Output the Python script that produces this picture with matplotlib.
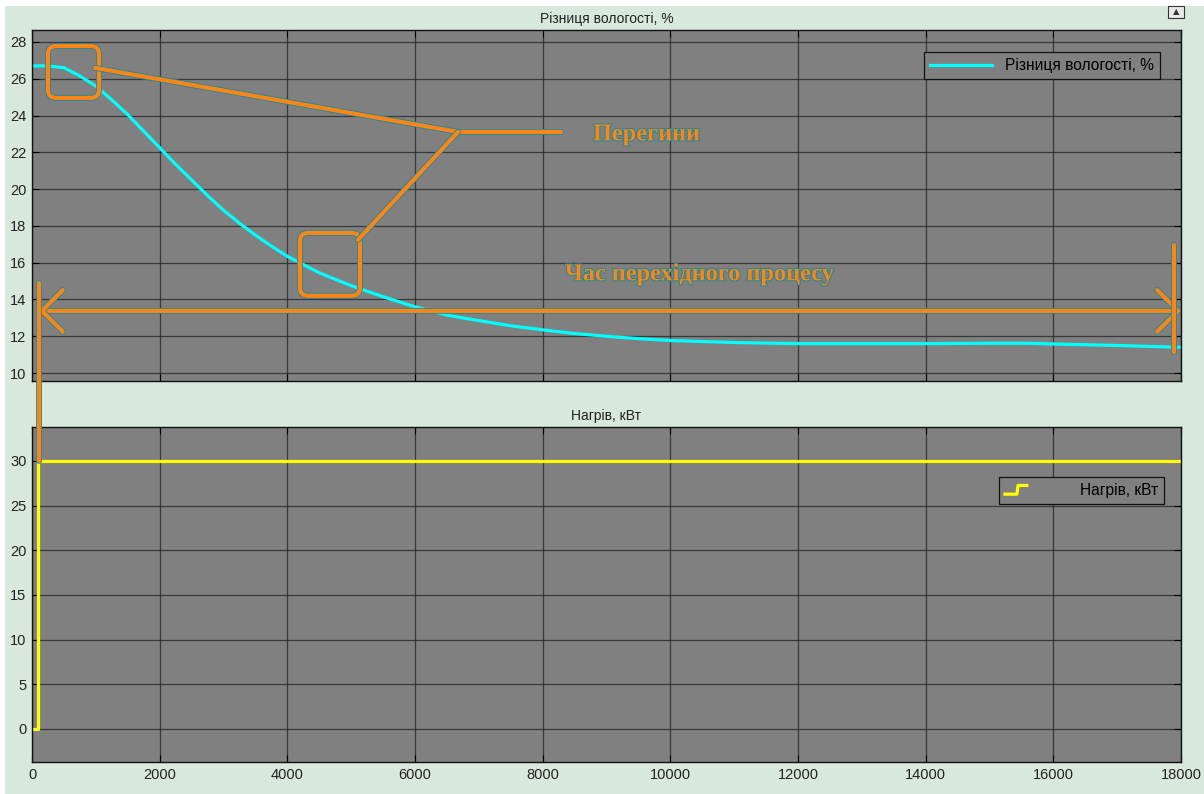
import numpy as np
import matplotlib.pyplot as plt
import matplotlib.patheffects as pe
from matplotlib.patches import Rectangle, FancyBboxPatch, ConnectionPatch
from matplotlib.legend_handler import HandlerLine2D
from matplotlib.lines import Line2D

# Дані: різниця вологості та нагрів
time_hum = [0, 250, 500, 750, 1000, 1250, 1500, 1750, 2000, 2250, 2500, 2750, 3000,
            3250, 3500, 3750, 4000, 4250, 4500, 4750, 5000, 5500, 6000, 6500, 7000,
            7500, 8000, 8500, 9000, 9500, 10000, 11000, 12000, 13000, 14000, 15000,
            15600, 16000, 17000, 18000]
hum_diff = [26.7, 26.7, 26.6, 26.15, 25.6, 24.85, 24.05, 23.15, 22.25, 21.35, 20.5,
            19.65, 18.85, 18.15, 17.5, 16.9, 16.35, 15.9, 15.45, 15.1, 14.75, 14.15,
            13.6, 13.15, 12.85, 12.57, 12.35, 12.15, 12.0, 11.87, 11.77, 11.66,
            11.6, 11.6, 11.6, 11.62, 11.62, 11.58, 11.5, 11.4]

time_heat = [0, 100, 18000]
heat_kw = [0, 30, 30]

title_top = 'Різниця вологості, %'
title_bottom = 'Нагрів, кВт'
xticks = np.arange(0, 18001, 2000)

plt.rcParams['font.family'] = ['Liberation Sans', 'DejaVu Sans']

ORANGE = '#fb8517'
TEAL = '#1f8a99'
GREEN_BG = '#d8e8dc'
AX_BG = '#808080'

fig = plt.figure(figsize=(12.04, 7.94), dpi=100)
fig.patch.set_facecolor('white')
fig.add_artist(Rectangle((5 / 1204, 0), 1, 1 - 6 / 794, transform=fig.transFigure,
                         facecolor=GREEN_BG, edgecolor='none', zorder=-10))

ax1 = fig.add_axes([0.02658, 0.5202, 0.9543, 0.4420])
ax2 = fig.add_axes([0.02658, 0.0403, 0.9543, 0.4219])

for ax in (ax1, ax2):
    ax.set_facecolor(AX_BG)
    ax.set_xlim(0, 18000)
    ax.set_xticks(xticks)
    ax.grid(True, color='#222222', linewidth=0.9, alpha=0.75)
    ax.tick_params(direction='in', top=True, right=True, length=5, width=0.8,
                   labelsize=10.5, labelcolor='#222222', pad=4)
    for s in ax.spines.values():
        s.set_color('#111111')
        s.set_linewidth(1)
    ax.set_axisbelow(True)

ax1.set_ylim(9.57, 28.65)
ax1.set_yticks(np.arange(10, 29, 2))
ax1.tick_params(labelbottom=False)
ax2.set_ylim(-3.7, 33.8)
ax2.set_yticks(np.arange(0, 31, 5))

ax1.plot(time_hum, hum_diff, color='#00ffff', linewidth=2.3, label=title_top,
         solid_joinstyle='round')
ax2.plot(time_heat, heat_kw, color='#ffff00', linewidth=2.3, drawstyle='steps-post',
         label=title_bottom)

ax1.set_title(title_top, fontsize=10, color='#222222', pad=5)
ax2.set_title(title_bottom, fontsize=10, color='#222222', pad=5)


class HandlerStep(HandlerLine2D):
    def create_artists(self, legend, orig_handle, xdescent, ydescent, width,
                       height, fontsize, trans):
        w = 2.0 * height
        x0 = -xdescent
        y0 = -ydescent
        xs = [x0, x0 + 0.55 * w, x0 + 0.6 * w, x0 + w]
        ys = [y0 + 0.1 * height, y0 + 0.1 * height, y0 + 0.9 * height, y0 + 0.9 * height]
        ln = Line2D(xs, ys, color=orig_handle.get_color(), linewidth=2.3,
                    transform=trans)
        return [ln]


leg1 = ax1.legend(loc='upper right', bbox_to_anchor=(0.9817, 0.9373), borderaxespad=0,
                  fontsize=11.2, handlelength=4, fancybox=False, framealpha=1,
                  facecolor=AX_BG, edgecolor='#111111', borderpad=0.4)
leg1.get_frame().set_linewidth(0.9)
leg2 = ax2.legend(loc='upper right', bbox_to_anchor=(0.9852, 0.8507), borderaxespad=0,
                  fontsize=11.2, handlelength=4.2, handletextpad=0.6, fancybox=False,
                  framealpha=1, facecolor=AX_BG, edgecolor='#111111', borderpad=0.4,
                  handler_map={Line2D: HandlerStep()})
leg2.get_frame().set_linewidth(0.9)

# Анотації (перегини та час перехідного процесу)
lw = 3.0
eff = [pe.Stroke(linewidth=lw + 1.2, foreground=TEAL), pe.Normal()]
aspect = (1 / 18.4) / (18000 / 1149)

for (bx0, by0, bx1, by1) in [(250, 24.96, 1050, 27.78), (4198, 14.2, 5138, 17.62)]:
    box = FancyBboxPatch((bx0, by0), bx1 - bx0, by1 - by0,
                         boxstyle='round,pad=0,rounding_size=130', mutation_aspect=aspect,
                         facecolor='none', edgecolor=ORANGE, linewidth=lw,
                         path_effects=eff, zorder=5)
    ax1.add_patch(box)

ax1.plot([987, 6674, 8287], [26.59, 23.11, 23.11], color=ORANGE, linewidth=lw,
         solid_capstyle='round', path_effects=eff, zorder=5)
ax1.plot([6674, 5107], [23.11, 17.24], color=ORANGE, linewidth=lw,
         solid_capstyle='round', path_effects=eff, zorder=5)

txt_eff = [pe.withStroke(linewidth=1.4, foreground=TEAL)]
ax1.text(8789, 22.95, 'Перегини', family='Liberation Serif', fontweight='bold',
         fontsize=17.5, color=ORANGE, va='center', ha='left', path_effects=txt_eff, zorder=6)
ax1.text(8350, 15.34, 'Час перехідного процесу', family='Liberation Serif',
         fontweight='bold', fontsize=17.5, color=ORANGE, va='center', ha='left',
         path_effects=txt_eff, zorder=6)

ax1.annotate('', xy=(110, 13.38), xytext=(18000, 13.38),
             arrowprops=dict(arrowstyle='<->,head_length=1.5,head_width=1.5',
                             color=ORANGE, linewidth=lw, mutation_scale=10,
                             shrinkA=0, shrinkB=0, path_effects=eff),
             annotation_clip=False, zorder=5)

ax1.plot([17890, 17890], [11.15, 16.97], color=ORANGE, linewidth=lw,
         solid_capstyle='round', path_effects=eff, zorder=5, clip_on=False)

con = ConnectionPatch(xyA=(110, 14.9), coordsA=ax1.transData,
                      xyB=(110, 30), coordsB=ax2.transData,
                      color=ORANGE, linewidth=lw, capstyle='round', path_effects=eff,
                      zorder=5)
fig.add_artist(con)

# значок у правому верхньому куті
fig.add_artist(Rectangle((1168 / 1204, 1 - 18 / 794), 16 / 1204, 12 / 794,
                         transform=fig.transFigure, facecolor='#e8e8e8',
                         edgecolor='#333333', linewidth=0.8))
fig.text(1176 / 1204, 1 - 12 / 794, '▲', fontsize=6, ha='center', va='center',
         color='#333333', family='DejaVu Sans')

fig.savefig('out.png', dpi=100, facecolor=fig.get_facecolor())
